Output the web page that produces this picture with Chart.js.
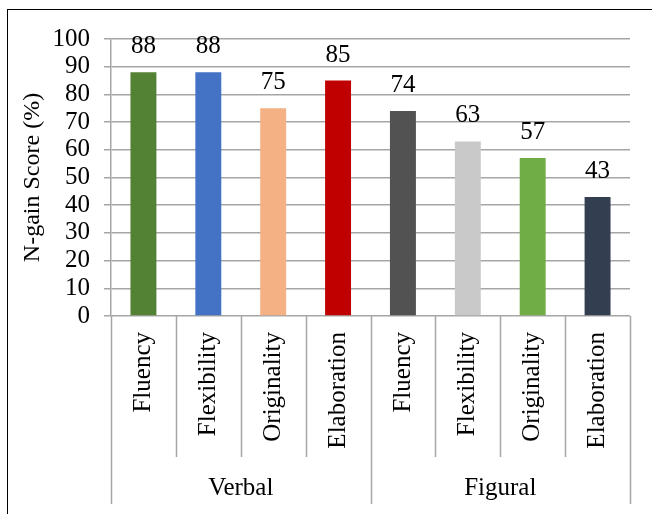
<!DOCTYPE html>
<html>
<head>
<meta charset="utf-8">
<script src="https://cdn.jsdelivr.net/npm/chart.js@4.4.1/dist/chart.umd.min.js"></script>
<style>
  html, body { margin: 0; padding: 0; background: #fff; overflow: hidden; }
  #wrap { position: relative; width: 652px; height: 514px; }
  #frame {
    position: absolute; left: 7px; top: 9px; width: 700px; height: 600px;
    border-left: 1.5px solid #000; border-top: 1.5px solid #000;
    pointer-events: none;
  }
  canvas { position: absolute; left: 0; top: 0; }
</style>
</head>
<body>
<div id="wrap">
  <canvas id="chart" width="652" height="514"></canvas>
  <div id="frame"></div>
</div>
<script>
const groups = ['Verbal', 'Figural'];
const groupSizes = [4, 4];
const skills = ['Fluency', 'Flexibility', 'Originality', 'Elaboration',
                'Fluency', 'Flexibility', 'Originality', 'Elaboration'];
const scores = [88, 88, 75, 85, 74, 63, 57, 43];
const barColors = ['#548235', '#4472C4', '#F4B183', '#C00000',
                   '#525252', '#C9C9C9', '#70AD47', '#333F50'];
const yTicks = [0, 10, 20, 30, 40, 50, 60, 70, 80, 90, 100];

const FONT = '"Liberation Serif", "Times New Roman", serif';
const GRID = '#A6A6A6';

// value labels above bars + two-level category axis underneath
const extrasPlugin = {
    id: 'extras',
    afterDatasetsDraw(chart) {
        const ctx = chart.ctx;
        const meta = chart.getDatasetMeta(0);
        ctx.save();
        ctx.font = '25px ' + FONT;
        ctx.fillStyle = '#000';
        ctx.textAlign = 'center';
        ctx.textBaseline = 'alphabetic';
        meta.data.forEach((bar, i) => {
            ctx.fillText(String(scores[i]), bar.x, bar.y - 19);
        });
        ctx.restore();
    },
    afterDraw(chart) {
        const ctx = chart.ctx;
        const x = chart.scales.x;
        const base = chart.chartArea.bottom;
        const n = skills.length;
        const edge = (i) => {
            if (i === 0) return x.left;
            if (i === n) return x.right;
            return (x.getPixelForValue(i - 1) + x.getPixelForValue(i)) / 2;
        };
        const groupEdges = [0];
        groupSizes.forEach((s) => groupEdges.push(groupEdges[groupEdges.length - 1] + s));

        ctx.save();
        ctx.strokeStyle = GRID;
        ctx.lineWidth = 1.5;
        for (let i = 0; i <= n; i++) {
            const px = Math.round(edge(i)) + 0.5;
            const len = groupEdges.includes(i) ? 188 : 141;
            ctx.beginPath();
            ctx.moveTo(px, base);
            ctx.lineTo(px, base + len);
            ctx.stroke();
        }
        ctx.font = '25px ' + FONT;
        ctx.fillStyle = '#000';
        ctx.textAlign = 'center';
        ctx.textBaseline = 'middle';
        groups.forEach((g, gi) => {
            const cx = (edge(groupEdges[gi]) + edge(groupEdges[gi + 1])) / 2;
            ctx.fillText(g, cx, base + 172);
        });
        ctx.restore();
    }
};

new Chart(document.getElementById('chart'), {
    type: 'bar',
    data: {
        labels: skills,
        datasets: [{
            data: scores,
            backgroundColor: barColors,
            borderWidth: 0,
            categoryPercentage: 1,
            barPercentage: 0.4,
        }],
    },
    options: {
        responsive: false,
        animation: false,
        layout: { padding: { top: 39, right: 22, left: 0, bottom: 0 } },
        plugins: {
            legend: { display: false },
            tooltip: { enabled: false },
        },
        scales: {
            x: {
                grid: { display: false, drawTicks: false },
                border: { display: false },
                ticks: {
                    minRotation: 90,
                    maxRotation: 90,
                    autoSkip: false,
                    padding: 16,
                    color: '#000',
                    font: { family: FONT, size: 25 },
                },
                afterFit: (scale) => { scale.height = 198; },
            },
            y: {
                min: 0,
                max: 100,
                afterBuildTicks: (scale) => {
                    scale.ticks = yTicks.map((v) => ({ value: v }));
                },
                grid: { color: GRID, lineWidth: 1.5, tickLength: 7 },
                border: { color: GRID, width: 1.5 },
                ticks: {
                    autoSkip: false,
                    padding: 14,
                    color: '#000',
                    font: { family: FONT, size: 25 },
                },
                title: {
                    display: true,
                    text: 'N-gain Score (%)',
                    color: '#000',
                    font: { family: FONT, size: 24 },
                    padding: { top: 18, bottom: 0 },
                },
                afterFit: (scale) => { scale.width = 111; },
            },
        },
    },
    plugins: [extrasPlugin],
});
</script>
</body>
</html>
